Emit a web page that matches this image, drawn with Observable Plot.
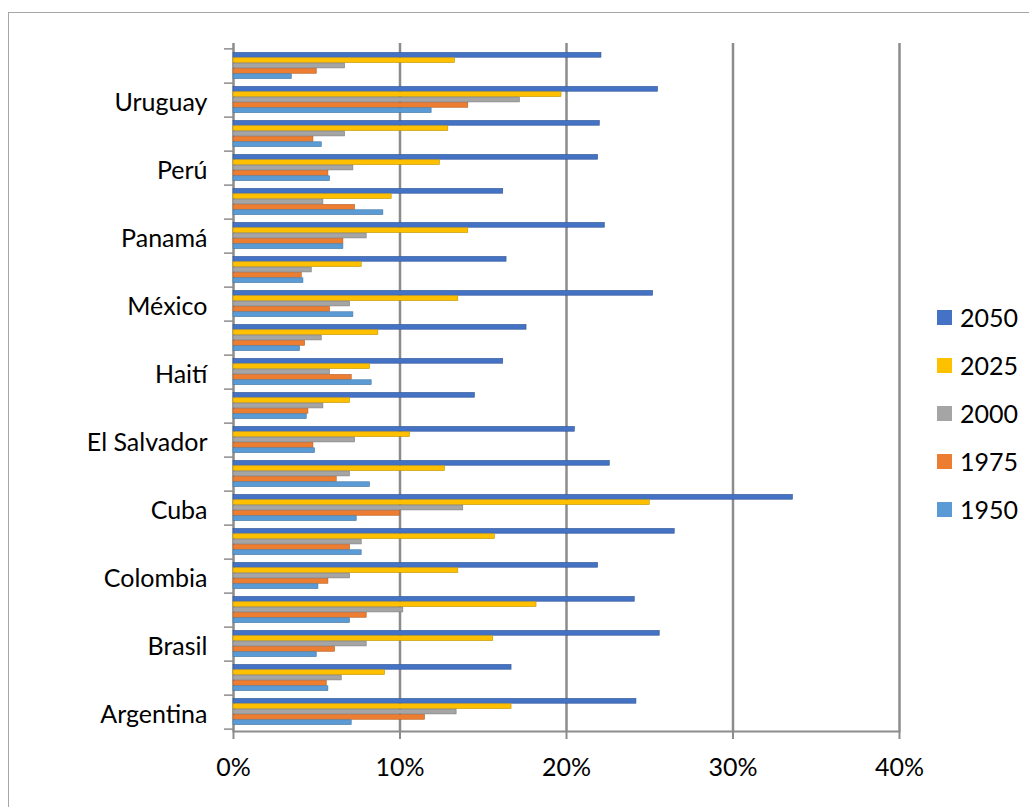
<!DOCTYPE html>
<html>
<head>
<meta charset="utf-8">
<script src="https://cdn.jsdelivr.net/npm/d3@7"></script>
<script src="https://cdn.jsdelivr.net/npm/@observablehq/plot@0.6"></script>
<style>
  html, body { margin: 0; padding: 0; background: #fff; overflow: hidden; }
  body { width: 1029px; height: 807px; position: relative; font-family: Lato, "Open Sans", sans-serif; }
  #border { position: absolute; left: 8px; top: 12px; width: 1100px; height: 900px; border: 1.5px solid #a6a6a6; box-sizing: border-box; }
  #chart { position: absolute; left: 0; top: 0; }
  #legend { position: absolute; left: 937px; top: 293px; }
  .item { display: flex; align-items: center; height: 48px; font-size: 25px; color: #000; }
  .sw { width: 15px; height: 15px; margin-right: 8px; }
</style>
</head>
<body>
<div id="border"></div>
<div id="chart"></div>
<div id="legend"></div>
<script>
// Categories, bottom to top
const countries = ["Argentina","Bolivia","Brasil","Chile","Colombia","Costa Rica","Cuba","Ecuador","El Salvador","Guatemala","Haití","Honduras","México","Nicaragua","Panamá","Paraguay","Perú","República Dominicana","Uruguay","Venezuela"];
const labeledCountries = ["Argentina","Brasil","Colombia","Cuba","El Salvador","Haití","México","Panamá","Perú","Uruguay"];
const seriesNames = ["2050","2025","2000","1975","1950"];
const seriesColors = ["#4472C4","#FFC000","#A5A5A5","#ED7D31","#5B9BD5"];
const xTicks = [0,10,20,30,40];

// Values in percent, same order as countries
const v2050 = [24.2,16.7,25.6,24.1,21.9,26.5,33.6,22.6,20.5,14.5,16.2,17.6,25.2,16.4,22.3,16.2,21.9,22.0,25.5,22.1];
const v2025 = [16.7,9.1,15.6,18.2,13.5,15.7,25.0,12.7,10.6,7.0,8.2,8.7,13.5,7.7,14.1,9.5,12.4,12.9,19.7,13.3];
const v2000 = [13.4,6.5,8.0,10.2,7.0,7.7,13.8,7.0,7.3,5.4,5.8,5.3,7.0,4.7,8.0,5.4,7.2,6.7,17.2,6.7];
const v1975 = [11.5,5.6,6.1,8.0,5.7,7.0,10.0,6.2,4.8,4.5,7.1,4.3,5.8,4.1,6.6,7.3,5.7,4.8,14.1,5.0];
const v1950 = [7.1,5.7,5.0,7.0,5.1,7.7,7.4,8.2,4.9,4.4,8.3,4.0,7.2,4.2,6.6,9.0,5.8,5.3,11.9,3.5];

const seriesValues = [v2050, v2025, v2000, v1975, v1950];

const W = 925, H = 807, mT = 46, mB = 76, mL = 233, mR = 26;
const padInner = 0.22;
const step = (H - mT - mB) / countries.length;
const barH = step * (1 - padInner) / seriesNames.length;
const gray = "#8c8c8c";

const barMarks = seriesNames.map((name, i) => {
  const rows = countries.map((c, j) => ({country: c, value: seriesValues[i][j], series: name}));
  return Plot.barX(rows, {
    x: "value", y: "country",
    fill: seriesColors[i],
    stroke: d3.color(seriesColors[i]).darker(0.8).formatHex(),
    strokeWidth: 0.6,
    insetTop: i * barH + 0.4,
    insetBottom: (seriesNames.length - 1 - i) * barH + 0.4
  });
});

const chart = Plot.plot({
  width: W, height: H,
  marginTop: mT, marginBottom: mB, marginLeft: mL, marginRight: mR,
  style: {fontFamily: "Lato, 'Open Sans', sans-serif", fontSize: "25px", color: "#000", background: "transparent"},
  x: {domain: [0, 40], label: null},
  y: {domain: countries.slice().reverse(), paddingInner: padInner, paddingOuter: padInner / 2, label: null},
  marks: [
    Plot.ruleX(xTicks, {stroke: gray, strokeWidth: 2.5, insetTop: -3}),
    Plot.frame({anchor: "bottom", stroke: gray, strokeWidth: 2}),
    ...barMarks,
    Plot.axisX({ticks: xTicks, tickFormat: d => d + "%", tickSize: 8, tickPadding: 19, stroke: gray, strokeWidth: 2, label: null, fontSize: 25}),
    Plot.axisY({ticks: labeledCountries, tickSize: 0, tickPadding: 26, label: null, fontSize: 25, dy: 3}),
    Plot.axisY({ticks: countries, tickSize: 9, tickFormat: () => "", stroke: gray, strokeWidth: 1.5, label: null, dy: step / 2}),
    Plot.axisY({ticks: [countries[countries.length - 1]], tickSize: 9, tickFormat: () => "", stroke: gray, strokeWidth: 1.5, label: null, dy: -step / 2})
  ]
});
document.getElementById("chart").appendChild(chart);

const legend = document.getElementById("legend");
seriesNames.forEach((name, i) => {
  const item = document.createElement("div");
  item.className = "item";
  const sw = document.createElement("div");
  sw.className = "sw";
  sw.style.background = seriesColors[i];
  const t = document.createElement("span");
  t.textContent = name;
  item.appendChild(sw);
  item.appendChild(t);
  legend.appendChild(item);
});
</script>
</body>
</html>
